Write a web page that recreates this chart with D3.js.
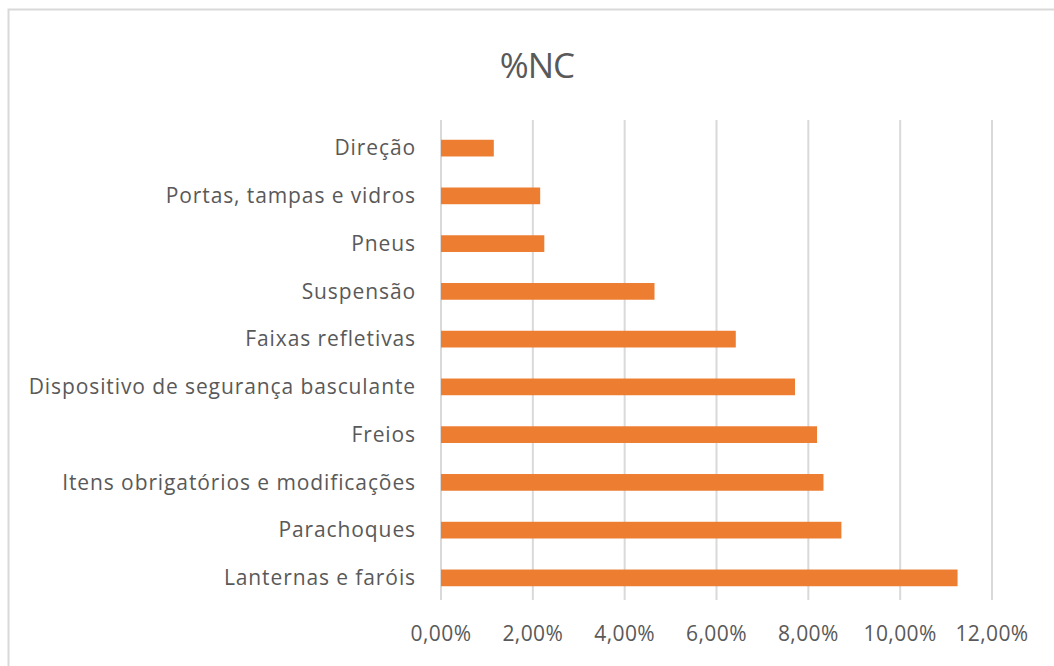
<html>
<head>
    <meta charset="utf-8">
    <script src="https://cdn.jsdelivr.net/npm/d3@7/dist/d3.min.js"></script>
    <style>
        body { margin: 0; background: #fff; }
        text { font-family: "Open Sans", sans-serif; fill: #595959; }
    </style>
</head>
<body>
<script>
    // data (top to bottom)
    var categories = ["Direção", "Portas, tampas e vidros", "Pneus", "Suspensão", "Faixas refletivas",
        "Dispositivo de segurança basculante", "Freios", "Itens obrigatórios e modificações",
        "Parachoques", "Lanternas e faróis"];
    var values = [1.15, 2.16, 2.25, 4.65, 6.42, 7.71, 8.19, 8.33, 8.72, 11.25];
    var tickValues = [0, 2, 4, 6, 8, 10, 12];

    var W = 1054, H = 666;
    var margin = {top: 124, left: 441, right: 62, bottom: 64};

    var svg = d3.select("body").append("svg")
        .attr("width", W)
        .attr("height", H);

    // chart frame
    svg.append("rect")
        .attr("x", 8.5).attr("y", 9.5)
        .attr("width", W + 20).attr("height", H + 20)
        .attr("fill", "#fff")
        .attr("stroke", "#d9d9d9")
        .attr("stroke-width", 2);

    svg.append("text")
        .attr("x", 537)
        .attr("y", 78)
        .attr("text-anchor", "middle")
        .attr("font-size", "35px")
        .style("letter-spacing", "-1px")
        .text("%NC");

    var x = d3.scaleLinear()
        .domain([0, 12])
        .range([margin.left, W - margin.right]);

    var y = d3.scaleBand()
        .domain(categories)
        .range([margin.top, H - margin.bottom])
        .paddingInner(0.65)
        .paddingOuter(0.33);

    // gridlines
    svg.append("g")
        .selectAll("line")
        .data(tickValues)
        .enter()
        .append("line")
        .attr("x1", function (d) { return x(d); })
        .attr("x2", function (d) { return x(d); })
        .attr("y1", margin.top - 4)
        .attr("y2", H - margin.bottom - 2)
        .attr("stroke", "#d9d9d9")
        .attr("stroke-width", 2);

    svg.append("g")
        .selectAll("rect")
        .data(values)
        .enter()
        .append("rect")
        .attr("x", x(0))
        .attr("y", function (d, i) { return y(categories[i]); })
        .attr("width", function (d) { return x(d) - x(0); })
        .attr("height", y.bandwidth())
        .attr("fill", "#ed7d31");

    // category labels
    svg.append("g")
        .selectAll("text")
        .data(categories)
        .enter()
        .append("text")
        .attr("x", 416)
        .attr("y", function (d) { return y(d) + y.bandwidth() / 2; })
        .attr("dy", "0.35em")
        .attr("text-anchor", "end")
        .attr("font-size", "21px")
        .style("letter-spacing", "0.9px")
        .text(function (d) { return d; });

    // x tick labels
    var fmt = function (d) { return d3.format(".2f")(d).replace(".", ",") + "%"; };
    svg.append("g")
        .selectAll("text")
        .data(tickValues)
        .enter()
        .append("text")
        .attr("x", function (d) { return x(d); })
        .attr("y", 641)
        .attr("text-anchor", "middle")
        .attr("font-size", "21px")
        .style("letter-spacing", "0.4px")
        .text(fmt);
</script>
</body>
</html>
